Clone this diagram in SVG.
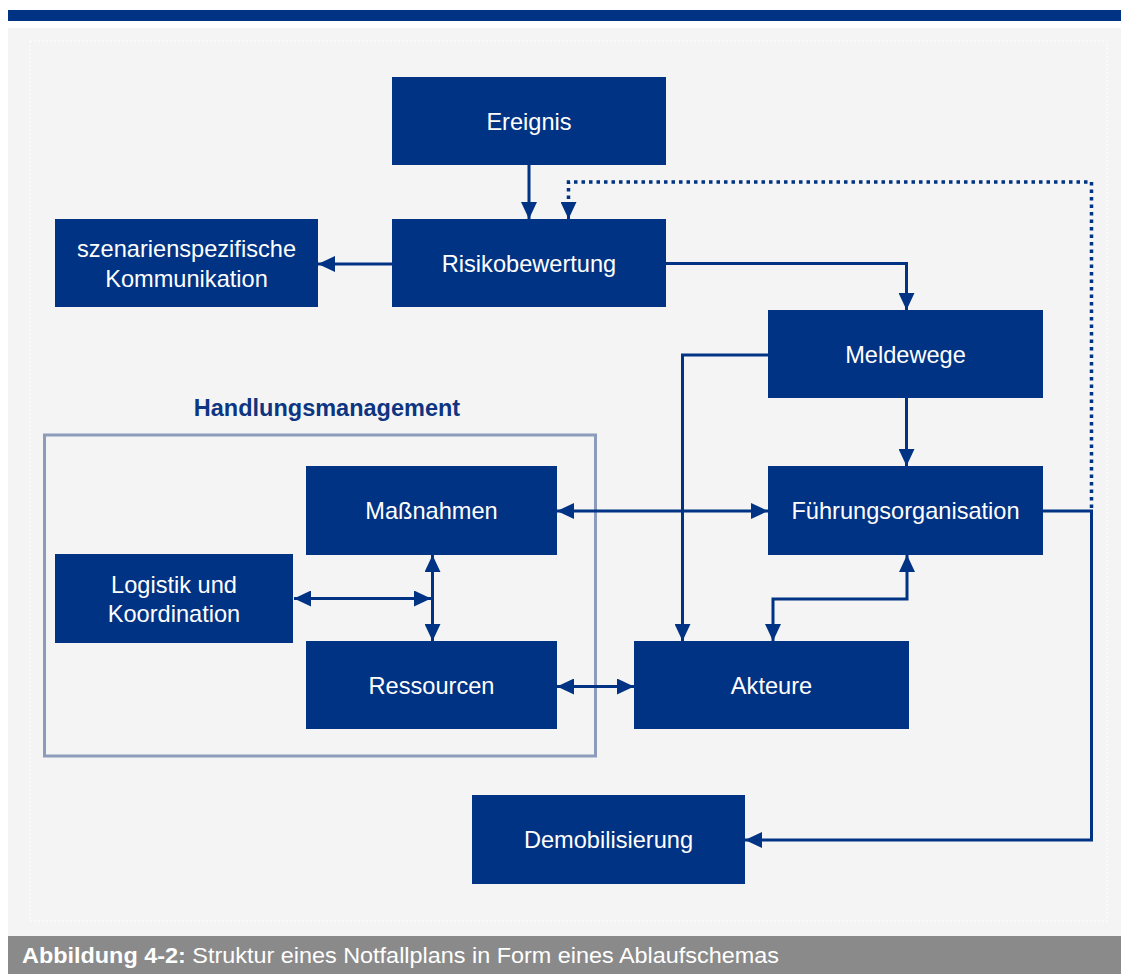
<svg xmlns="http://www.w3.org/2000/svg" width="1121" height="974" viewBox="0 0 1121 974">
<defs>
<marker id="arr" markerUnits="userSpaceOnUse" markerWidth="17" markerHeight="16" viewBox="0 0 17 16" refX="17" refY="8" orient="auto-start-reverse">
<path d="M0,0 L17,8 L0,16 z" fill="#003383"/>
</marker>
<style>
.box{fill:#003383}
.lbl{font-family:"Liberation Sans",Arial,sans-serif;font-size:23.6px;fill:#ffffff;text-anchor:middle}
.con{fill:none;stroke:#003383;stroke-width:3}
.dot{fill:none;stroke:#003383;stroke-width:3.5;stroke-dasharray:3.5 4}
</style>
</defs>
<rect x="0" y="0" width="1121" height="974" fill="#ffffff"/>
<rect x="8" y="10" width="1113" height="11" fill="#003383"/>
<rect x="8" y="28" width="1113" height="908" fill="#f4f4f4"/>
<rect x="30" y="41" width="1077" height="880" fill="none" stroke="#ffffff" stroke-width="1" stroke-dasharray="2 2"/>
<rect x="8" y="936" width="1113" height="38" fill="#8a8a8a"/>
<text x="22" y="963" font-family="Liberation Sans,Arial,sans-serif" font-size="22" fill="#ffffff" textLength="757" lengthAdjust="spacingAndGlyphs"><tspan font-weight="bold">Abbildung 4-2:</tspan> Struktur eines Notfallplans in Form eines Ablaufschemas</text>

<g id="handlungsmanagement">
<rect x="44.5" y="435" width="551" height="321" fill="none" stroke="#8d9cbb" stroke-width="3"/>
<text x="327" y="416" font-family="Liberation Sans,Arial,sans-serif" font-size="23.5" font-weight="bold" fill="#0d3582" text-anchor="middle">Handlungsmanagement</text>
</g>

<g id="connectors">
<path class="con" d="M529,165 V219" marker-end="url(#arr)"/>
<path class="dot" d="M1091.5,508 V182 H568.5 V201"/>
<path class="con" d="M568.5,203 V219" marker-end="url(#arr)"/>
<path class="con" d="M1043,511 H1091.5 V840 H745" marker-end="url(#arr)"/>
<path class="con" d="M392,264 H318" marker-end="url(#arr)"/>
<path class="con" d="M666,263.5 H906.5 V310" marker-end="url(#arr)"/>
<path class="con" d="M768,355 H682.5 V641" marker-end="url(#arr)"/>
<path class="con" d="M906.5,398 V466" marker-end="url(#arr)"/>
<path class="con" d="M557,511 H768" marker-start="url(#arr)" marker-end="url(#arr)"/>
<path class="con" d="M907,555 V599 H773 V641" marker-start="url(#arr)" marker-end="url(#arr)"/>
<path class="con" d="M432.5,555 V641" marker-start="url(#arr)" marker-end="url(#arr)"/>
<path class="con" d="M294,598.5 H431" marker-start="url(#arr)" marker-end="url(#arr)"/>
<path class="con" d="M557,686.5 H634" marker-start="url(#arr)" marker-end="url(#arr)"/>
</g>

<g id="ereignis"><rect class="box" x="392" y="77" width="274" height="88"/><text class="lbl" x="529" y="130">Ereignis</text></g>
<g id="risikobewertung"><rect class="box" x="392" y="219" width="274" height="88"/><text class="lbl" x="529" y="271.5">Risikobewertung</text></g>
<g id="kommunikation"><rect class="box" x="55" y="219" width="263" height="88"/><text class="lbl" x="186.5" y="257">szenarienspezifische</text><text class="lbl" x="186.5" y="286.5">Kommunikation</text></g>
<g id="meldewege"><rect class="box" x="768" y="310" width="275" height="88"/><text class="lbl" x="905.5" y="363">Meldewege</text></g>
<g id="fuehrungsorganisation"><rect class="box" x="768" y="466" width="275" height="89"/><text class="lbl" x="905.5" y="519">Führungsorganisation</text></g>
<g id="massnahmen"><rect class="box" x="306" y="466" width="251" height="89"/><text class="lbl" x="431.5" y="519">Maßnahmen</text></g>
<g id="logistik"><rect class="box" x="55" y="554" width="238" height="89"/><text class="lbl" x="174" y="592.5">Logistik und</text><text class="lbl" x="174" y="622">Koordination</text></g>
<g id="ressourcen"><rect class="box" x="306" y="641" width="251" height="88"/><text class="lbl" x="431.5" y="694">Ressourcen</text></g>
<g id="akteure"><rect class="box" x="634" y="641" width="275" height="88"/><text class="lbl" x="771.5" y="694">Akteure</text></g>
<g id="demobilisierung"><rect class="box" x="472" y="795" width="273" height="89"/><text class="lbl" x="608.5" y="848">Demobilisierung</text></g>
</svg>
